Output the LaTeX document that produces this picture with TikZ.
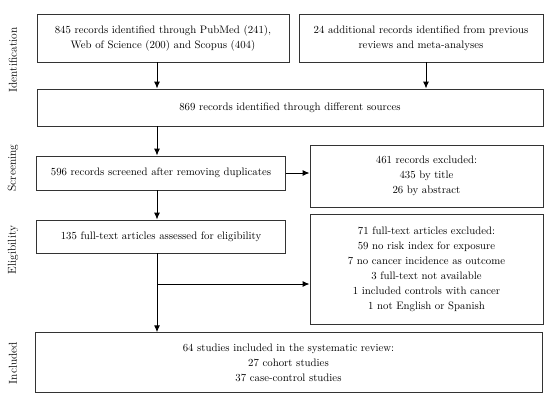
\documentclass[tikz,border=0pt]{standalone}
\usetikzlibrary{arrows.meta}
\begin{document}
\begin{tikzpicture}[x=1pt,y=-1pt,
  box/.style={draw=black!80,line width=0.9pt,align=center,inner sep=0pt,font=\fontsize{10.8}{15}\selectfont},
  arr/.style={line width=1pt,-{Latex[length=7pt,width=6pt]}},
  side/.style={rotate=90,font=\fontsize{11.5}{12}\selectfont}]
\useasboundingbox (0,0) rectangle (550,400);
\node[box,minimum width=252pt,minimum height=48pt] (b1) at (163,38) {845 records identified through PubMed (241),\\Web of Science (200) and Scopus (404)};
\node[box,minimum width=244pt,minimum height=48pt] (b2) at (421,38) {24 additional records identified from previous\\reviews and meta-analyses};
\node[box,minimum width=506pt,minimum height=37pt] (b3) at (290,107.5) {869 records identified through different sources};
\node[box,minimum width=249pt,minimum height=34pt] (b4) at (161,173) {596 records screened after removing duplicates};
\node[box,minimum width=233pt,minimum height=62pt] (b5) at (426.5,176) {461 records excluded:\\435 by title\\26 by abstract};
\node[box,minimum width=249pt,minimum height=33pt] (b6) at (161,236.5) {135 full-text articles assessed for eligibility};
\node[box,minimum width=233pt,minimum height=110pt] (b7) at (426.5,269) {71 full-text articles excluded:\\59 no risk index for exposure\\7 no cancer incidence as outcome\\3 full-text not available\\1 included controls with cancer\\1 not English or Spanish};
\node[box,minimum width=507pt,minimum height=60pt] (b8) at (288.5,362.7) {64 studies included in the systematic review:\\27 cohort studies\\37 case-control studies};
\node[side] (l1) at (13,60) {Identification};
\node[side] (l2) at (13,168) {Screening};
\node[side] (l3) at (13,250) {Eligibility};
\node[side] (l4) at (13,363) {Included};
\coordinate (ax) at (157,0);
\coordinate (bx) at (426,0);
\coordinate (br) at (157,284);
\draw[arr] (b1.south -| ax) -- (b3.north -| ax);
\draw[arr] (b2.south -| bx) -- (b3.north -| bx);
\draw[arr] (b3.south -| ax) -- (b4.north -| ax);
\draw[arr] (b4.east) -- (b5.west |- b4.east);
\draw[arr] (b4.south -| ax) -- (b6.north -| ax);
\draw[arr] (b6.south -| ax) -- (b8.north -| ax);
\draw[arr] (br) -- (b7.west |- br);
\end{tikzpicture}
\end{document}
